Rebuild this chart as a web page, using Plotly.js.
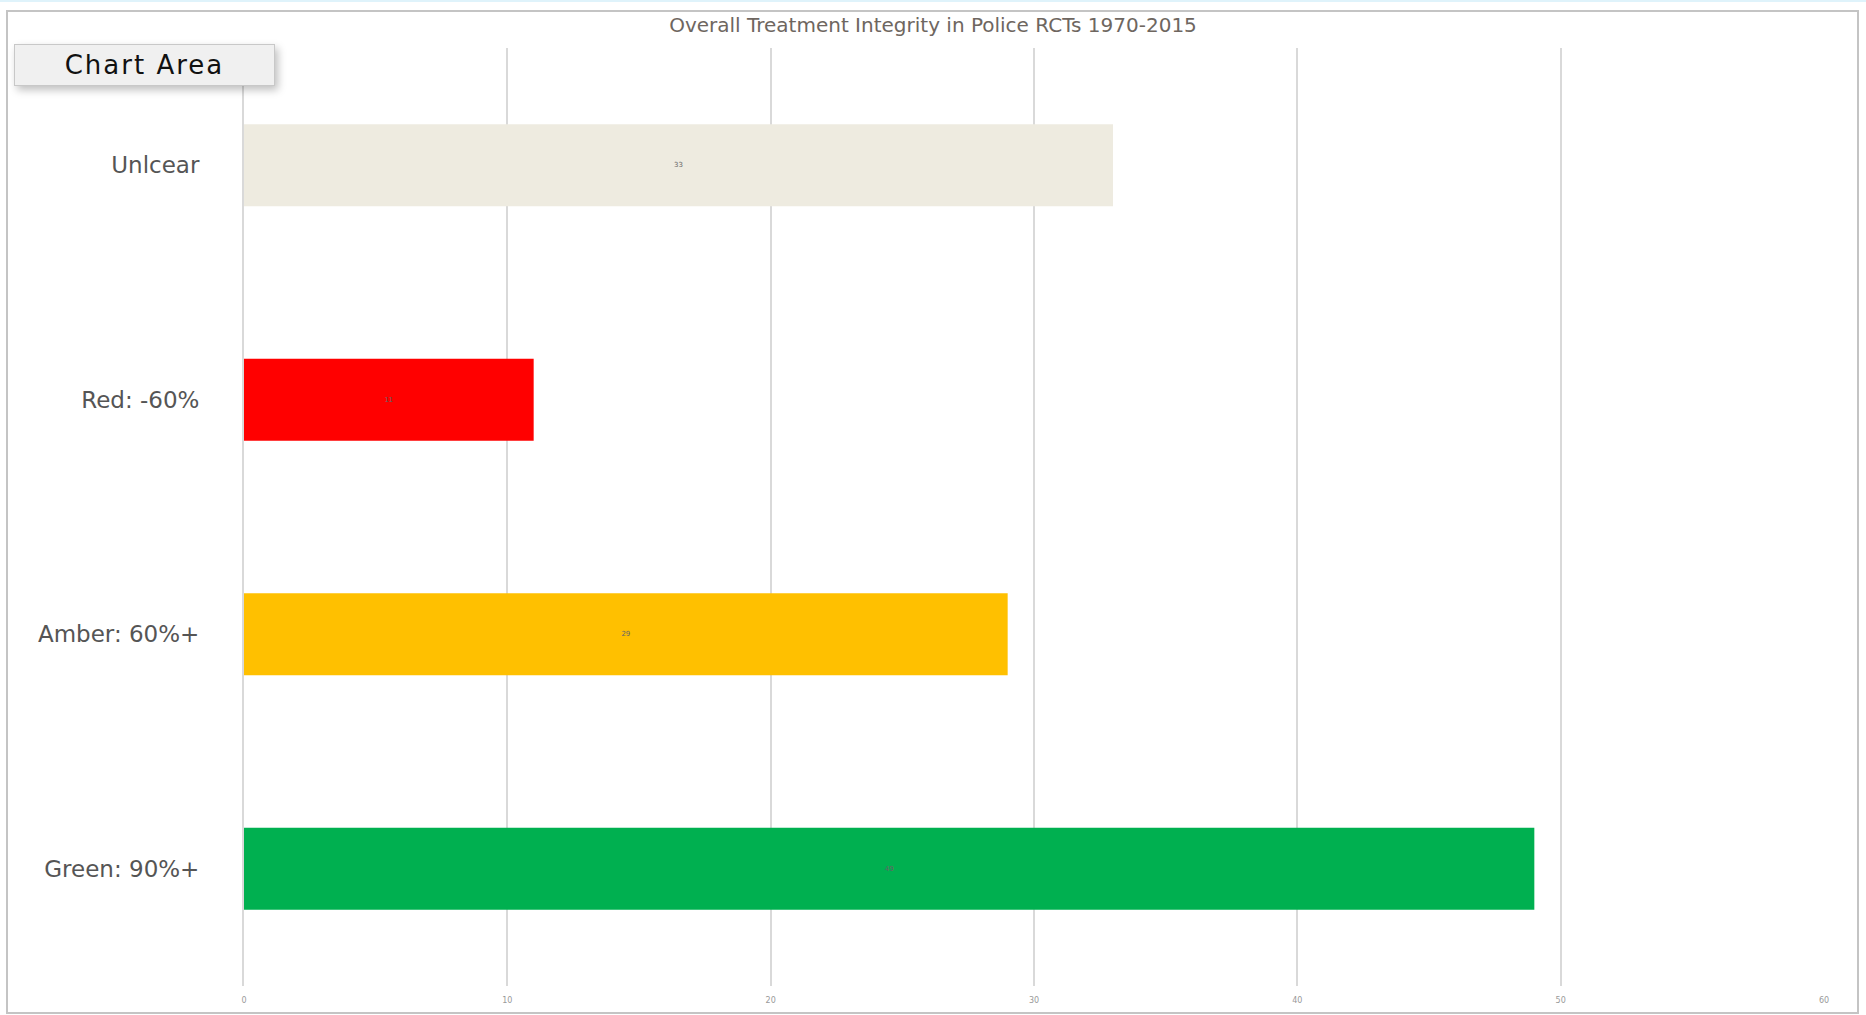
<!DOCTYPE html>
<html>
<head>
<meta charset="utf-8">
<script src="https://cdn.plot.ly/plotly-3.0.1.min.js"></script>
<style>
html,body{margin:0;padding:0;background:#fff;}
#wrap{position:relative;width:1866px;height:1015px;overflow:hidden;}
#chart{position:absolute;left:0;top:0;width:1866px;height:1015px;}
#frame{position:absolute;left:6px;top:10px;width:1849px;height:1000px;border:2px solid #c4c4c4;pointer-events:none;}
#topline{position:absolute;left:0;top:0;width:1866px;height:2px;background:#dff3fb;}
#tip{position:absolute;left:14px;top:44px;width:259px;height:40px;background:#f0f0f0;border:1px solid #c8c8c8;box-shadow:3px 4px 8px rgba(0,0,0,0.25);font-family:"DejaVu Sans",sans-serif;font-size:26px;color:#111;line-height:40px;text-align:center;letter-spacing:2px;}
</style>
</head>
<body>
<div id="wrap">
<div id="chart"></div>
<div id="topline"></div>
<div id="frame"></div>
<div id="tip">Chart Area</div>
</div>
<script>
const categories = ["Unlcear", "Red: -60%", "Amber: 60%+", "Green: 90%+"];
const values = [33, 11, 29, 49];
const barColors = ["#EEEBE0", "#FF0000", "#FFC000", "#00B050"];
const tickVals = [0, 10, 20, 30, 40, 50, 60];
const chartTitle = "Overall Treatment Integrity in Police RCTs 1970-2015";

const trace = {
  type: "bar",
  orientation: "h",
  y: categories,
  x: values,
  marker: {color: barColors},
  text: values.map(String),
  textposition: "inside",
  insidetextanchor: "middle",
  textfont: {size: 7, color: "#666", family: "DejaVu Sans"},
  hoverinfo: "none"
};

const layout = {
  width: 1866,
  height: 1015,
  margin: {l: 244, r: 42, t: 48, b: 29},
  paper_bgcolor: "rgba(0,0,0,0)",
  plot_bgcolor: "rgba(0,0,0,0)",
  showlegend: false,
  bargap: 0.65,
  title: {
    text: chartTitle,
    x: 0.5,
    xanchor: "center",
    y: 0.975,
    yanchor: "middle",
    font: {size: 20, color: "#6e6660", family: "DejaVu Sans"}
  },
  xaxis: {
    range: [0, 60],
    tickvals: tickVals,
    ticktext: tickVals.map(String),
    showgrid: true,
    gridcolor: "#d9d9d9",
    gridwidth: 2,
    zeroline: false,
    showline: false,
    ticks: "",
    ticklabelstandoff: 8,
    tickfont: {size: 8, color: "#999", family: "DejaVu Sans"},
    fixedrange: true
  },
  yaxis: {
    autorange: "reversed",
    showgrid: false,
    zeroline: false,
    showline: true,
    linecolor: "#d9d9d9",
    linewidth: 2,
    ticks: "",
    ticklabelstandoff: 38,
    tickfont: {size: 23, color: "#555", family: "DejaVu Sans"},
    fixedrange: true
  }
};

Plotly.newPlot("chart", [trace], layout, {displayModeBar: false, staticPlot: true});
</script>
</body>
</html>
